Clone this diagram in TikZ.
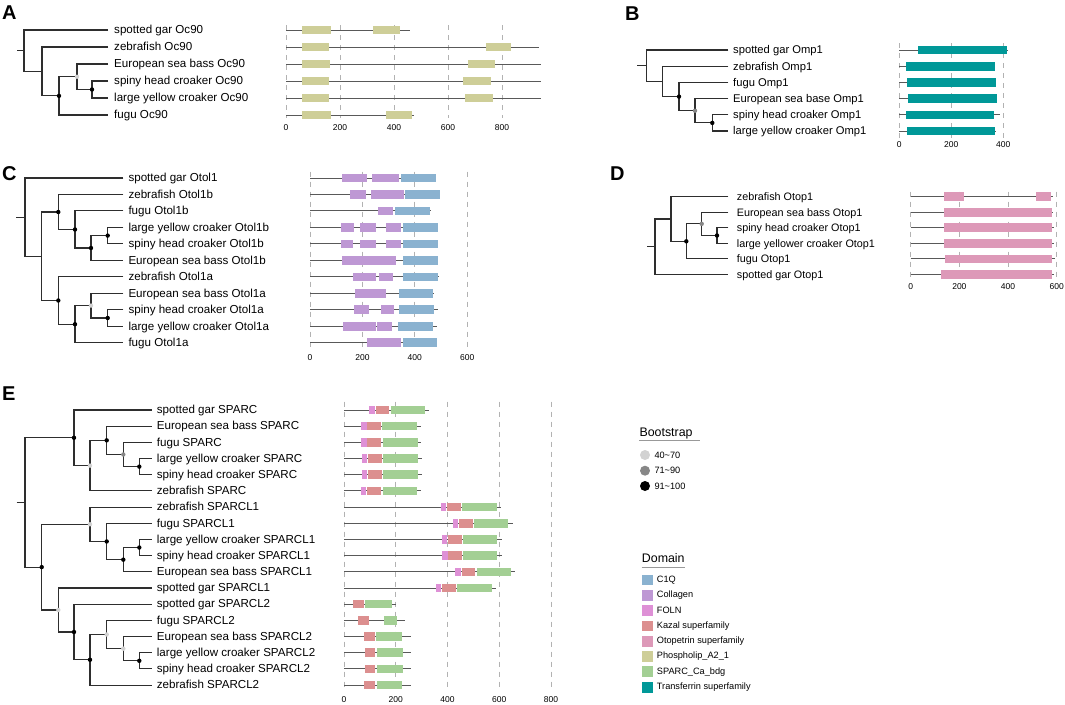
\documentclass[tikz,border=0pt]{standalone}
\usepackage{fontspec}
\setmainfont{Liberation Sans}
\definecolor{phos}{RGB}{206,206,152}
\definecolor{transf}{RGB}{0,152,152}
\definecolor{c1q}{RGB}{138,178,208}
\definecolor{coll}{RGB}{190,152,212}
\definecolor{otop}{RGB}{221,153,184}
\definecolor{foln}{RGB}{222,144,214}
\definecolor{kazal}{RGB}{220,143,143}
\definecolor{sparc}{RGB}{163,207,148}
\definecolor{bslight}{RGB}{210,210,210}
\definecolor{bsmid}{RGB}{135,135,135}
\tikzset{
  tree/.style={draw=black!82, line width=1.1pt},
  lbl/.style={anchor=base west, inner sep=0, font=\fontsize{11.6}{13}\selectfont},
  lblB/.style={anchor=base west, inner sep=0, font=\fontsize{11.2}{13}\selectfont},
  lblD/.style={anchor=base west, inner sep=0, font=\fontsize{10.8}{13}\selectfont},
  pline/.style={draw=black!65, line width=0.9pt},
  gridl/.style={draw=black!30, line width=0.7pt, dash pattern=on 5pt off 5pt},
  tick/.style={font=\fontsize{8.5}{10}\selectfont, inner sep=0, anchor=center},
  letter/.style={font=\bfseries\fontsize{20}{20}\selectfont, anchor=base west, inner sep=0},
  legt/.style={font=\fontsize{12.4}{14}\selectfont, anchor=base west, inner sep=0},
  legi/.style={font=\fontsize{9.2}{11}\selectfont, anchor=west, inner sep=0},
}
\newcommand\tip[6][lbl]{\coordinate (#2) at (#3,#4); \node[#1] (L#2) at (#5,{#4+3.8}) {#6};}
\newcommand\inode[3]{\coordinate (#1) at (#2,#3);}
\newcommand\clade[3]{\draw[tree] (#2) -- (#1 |- #2) -- (#1 |- #3) -- (#3);}
\newcommand\bsdot[2]{\fill[#2] (#1) circle (2.2);}
\newcommand\pline[2]{\draw[pline] (\xo,#1) -- ({\xo+\sc*#2},#1);}
\newcommand\pdom[4]{\fill[#1] ({\xo+\sc*#3},{#2-4.3}) rectangle ({\xo+\sc*#4},{#2+4.3});}
\newcommand\pgrid[4]{\foreach \v in {#1} {\draw[gridl] ({\xo+\sc*\v},#2) -- ({\xo+\sc*\v},#3); \node[tick] at ({\xo+\sc*\v},#4) {\v};}}
\begin{document}
\begin{tikzpicture}[x=1pt,y=-1pt]
\useasboundingbox (0,0) rectangle (1065,704);
\fill[white] (0,0) rectangle (1065,704);

% ===================== A =====================
\node[letter] (letA) at (2,19.5) {A};
\tip{a1}{108}{30}{114}{spotted gar Oc90}
\tip{a2}{108}{47}{114}{zebrafish Oc90}
\tip{a3}{108}{64}{114}{European sea bass Oc90}
\tip{a4}{108}{81}{114}{spiny head croaker Oc90}
\tip{a5}{108}{98}{114}{large yellow croaker Oc90}
\tip{a6}{108}{115}{114}{fugu Oc90}
\inode{na5}{92}{89.5}
\inode{na4}{77}{76.75}
\inode{na3}{59}{95.9}
\inode{na2}{42}{71.4}
\inode{na1}{24}{50.7}
\coordinate (sa) at (17,50.7);
\draw[tree] (sa) -- (na1);
\clade{na1}{a1}{na2}
\clade{na2}{a2}{na3}
\clade{na3}{na4}{a6}
\clade{na4}{a3}{na5}
\clade{na5}{a4}{a5}
\bsdot{na5}{black}\bsdot{na4}{bslight}\bsdot{na3}{black}

\def\xo{286}\def\sc{0.27}
\pgrid{0,200,400,600,800}{25}{118}{128}
\pline{30}{459}\pdom{phos}{30}{60}{165}\pdom{phos}{30}{323}{423}
\pline{47}{937}\pdom{phos}{47}{59}{160}\pdom{phos}{47}{742}{833}
\pline{64}{943}\pdom{phos}{64}{60}{163}\pdom{phos}{64}{675}{775}
\pline{81}{943}\pdom{phos}{81}{59}{160}\pdom{phos}{81}{657}{758}
\pline{98}{945}\pdom{phos}{98}{59}{160}\pdom{phos}{98}{663}{765}
\pline{115}{474}\pdom{phos}{115}{61}{167}\pdom{phos}{115}{370}{468}

% ===================== B =====================
\node[letter] (letB) at (625,20) {B};
\tip[lblB]{b1}{728.3}{50}{733}{spotted gar Omp1}
\tip[lblB]{b2}{728.3}{66.2}{733}{zebrafish Omp1}
\tip[lblB]{b3}{728.3}{82.4}{733}{fugu Omp1}
\tip[lblB]{b4}{728.3}{98.6}{733}{European sea base Omp1}
\tip[lblB]{b5}{728.3}{114.8}{733}{spiny head croaker Omp1}
\tip[lblB]{b6}{728.3}{131}{733}{large yellow croaker Omp1}
\inode{nb5}{712.3}{122.9}
\inode{nb4}{695}{110.75}
\inode{nb3}{679}{96.6}
\inode{nb2}{662.7}{81.4}
\inode{nb1}{646.7}{65.7}
\coordinate (sb) at (637.3,65.7);
\draw[tree] (sb) -- (nb1);
\clade{nb1}{b1}{nb2}
\clade{nb2}{b2}{nb3}
\clade{nb3}{b3}{nb4}
\clade{nb4}{b4}{nb5}
\clade{nb5}{b5}{b6}
\bsdot{nb5}{black}\bsdot{nb4}{bsmid}\bsdot{nb3}{black}

\def\xo{899.3}\def\sc{0.26}
\pgrid{0,200,400}{43}{138}{145}
\pline{50}{417}\pdom{transf}{50}{73}{413}
\pline{66.2}{368}\pdom{transf}{66.2}{27}{369}
\pline{82.4}{372}\pdom{transf}{82.4}{31}{372}
\pline{98.6}{377}\pdom{transf}{98.6}{33}{375}
\pline{114.8}{387}\pdom{transf}{114.8}{25}{365}
\pline{131}{370}\pdom{transf}{131}{28.5}{369}

% ===================== C =====================
\node[letter] (letC) at (2,180) {C};
\tip{c0}{123.3}{178}{128.3}{spotted gar Otol1}
\tip{c1}{123.3}{194.47}{128.3}{zebrafish Otol1b}
\tip{c2}{123.3}{210.94}{128.3}{fugu Otol1b}
\tip{c3}{123.3}{227.41}{128.3}{large yellow croaker Otol1b}
\tip{c4}{123.3}{243.88}{128.3}{spiny head croaker Otol1b}
\tip{c5}{123.3}{260.35}{128.3}{European sea bass Otol1b}
\tip{c6}{123.3}{276.82}{128.3}{zebrafish Otol1a}
\tip{c7}{123.3}{293.29}{128.3}{European sea bass Otol1a}
\tip{c8}{123.3}{309.76}{128.3}{spiny head croaker Otol1a}
\tip{c9}{123.3}{326.23}{128.3}{large yellow croaker Otol1a}
\tip{c10}{123.3}{342.7}{128.3}{fugu Otol1a}
\inode{nc9}{107.7}{235.6}
\inode{nc8}{91}{248.0}
\inode{nc7}{75}{229.5}
\inode{nc6}{58.3}{212.0}
\inode{nc13}{107.7}{318.0}
\inode{nc12}{91}{305.6}
\inode{nc11}{75}{324.2}
\inode{nc10}{58.3}{300.5}
\inode{nc2}{41.7}{256.25}
\inode{nc1}{25}{217.1}
\coordinate (sc) at (16,217.1);
\draw[tree] (sc) -- (nc1);
\clade{nc1}{c0}{nc2}
\clade{nc2}{nc6}{nc10}
\clade{nc6}{c1}{nc7}
\clade{nc7}{c2}{nc8}
\clade{nc8}{nc9}{c5}
\clade{nc9}{c3}{c4}
\clade{nc10}{c6}{nc11}
\clade{nc11}{nc12}{c10}
\clade{nc12}{c7}{nc13}
\clade{nc13}{c8}{c9}
\bsdot{nc6}{black}\bsdot{nc7}{black}\bsdot{nc8}{black}\bsdot{nc9}{black}
\bsdot{nc10}{black}\bsdot{nc11}{black}\bsdot{nc12}{bslight}\bsdot{nc13}{black}

\def\xo{310}\def\sc{0.262}
\pgrid{0,200,400,600}{171.7}{350}{358}
\pline{178}{479}\pdom{coll}{178}{121}{219}\pdom{coll}{178}{238}{341}\pdom{c1q}{178}{348}{479}
\pline{194.47}{495}\pdom{coll}{194.47}{153}{213}\pdom{coll}{194.47}{234}{360}\pdom{c1q}{194.47}{363}{495}
\pline{210.94}{460}\pdom{coll}{210.94}{260}{317}\pdom{c1q}{210.94}{326}{457}
\pline{227.41}{487}\pdom{coll}{227.41}{118}{167}\pdom{coll}{227.41}{192}{253}\pdom{coll}{227.41}{289}{348}\pdom{c1q}{227.41}{355}{487}
\pline{243.88}{487}\pdom{coll}{243.88}{118}{164}\pdom{coll}{243.88}{192}{253}\pdom{coll}{243.88}{289}{348}\pdom{c1q}{243.88}{355}{487}
\pline{260.35}{487}\pdom{coll}{260.35}{124}{329}\pdom{c1q}{260.35}{355}{487}
\pline{276.82}{492}\pdom{coll}{276.82}{163}{253}\pdom{coll}{276.82}{265}{316}\pdom{c1q}{276.82}{355}{487}
\pline{293.29}{474}\pdom{coll}{293.29}{172}{290}\pdom{c1q}{293.29}{340}{470}
\pline{309.76}{487}\pdom{coll}{309.76}{169}{225}\pdom{coll}{309.76}{271}{320}\pdom{c1q}{309.76}{341}{474}
\pline{326.23}{484}\pdom{coll}{326.23}{126}{252}\pdom{coll}{326.23}{256}{312}\pdom{c1q}{326.23}{336}{470}
\pline{342.7}{485}\pdom{coll}{342.7}{217}{348}\pdom{c1q}{342.7}{355}{485}

% ===================== D =====================
\node[letter] (letD) at (610,180) {D};
\tip[lblD]{d1}{728.3}{196.7}{736.7}{zebrafish Otop1}
\tip[lblD]{d2}{728.3}{212.2}{736.7}{European sea bass Otop1}
\tip[lblD]{d3}{728.3}{227.7}{736.7}{spiny head croaker Otop1}
\tip[lblD]{d4}{728.3}{243.3}{736.7}{large yellower croaker Otop1}
\tip[lblD]{d5}{728.3}{258.8}{736.7}{fugu Otop1}
\tip[lblD]{d6}{728.3}{274.3}{736.7}{spotted gar Otop1}
\inode{nd5}{717}{235.5}
\inode{nd4}{701.7}{223.85}
\inode{nd3}{686.3}{241.3}
\inode{nd2}{671}{219.0}
\inode{nd1}{655}{246.65}
\coordinate (sd) at (647.3,246.65);
\draw[tree] (sd) -- (nd1);
\clade{nd1}{nd2}{d6}
\clade{nd2}{d1}{nd3}
\clade{nd3}{nd4}{d5}
\clade{nd4}{d2}{nd5}
\clade{nd5}{d3}{d4}
\bsdot{nd5}{black}\bsdot{nd4}{bsmid}\bsdot{nd3}{black}

\def\xo{910.7}\def\sc{0.2433}
\pgrid{0,200,400,600}{191.7}{280}{286.7}
\pline{196.7}{586}\pdom{otop}{196.7}{137}{218}\pdom{otop}{196.7}{515}{578}
\pline{212.2}{586}\pdom{otop}{212.2}{137}{581}
\pline{227.7}{590}\pdom{otop}{227.7}{137}{581}
\pline{243.3}{590}\pdom{otop}{243.3}{137}{581}
\pline{258.8}{592}\pdom{otop}{258.8}{140}{582}
\pline{274.3}{590}\pdom{otop}{274.3}{123}{582}

% ===================== E =====================
\node[letter] (letE) at (2,400) {E};
\tip{e0}{151.7}{410}{156.7}{spotted gar SPARC}
\tip{e1}{151.7}{426.18}{156.7}{European sea bass SPARC}
\tip{e2}{151.7}{442.36}{156.7}{fugu SPARC}
\tip{e3}{151.7}{458.54}{156.7}{large yellow croaker SPARC}
\tip{e4}{151.7}{474.72}{156.7}{spiny head croaker SPARC}
\tip{e5}{151.7}{490.9}{156.7}{zebrafish SPARC}
\tip{e6}{151.7}{507.08}{156.7}{zebrafish SPARCL1}
\tip{e7}{151.7}{523.26}{156.7}{fugu SPARCL1}
\tip{e8}{151.7}{539.44}{156.7}{large yellow croaker SPARCL1}
\tip{e9}{151.7}{555.62}{156.7}{spiny head croaker SPARCL1}
\tip{e10}{151.7}{571.8}{156.7}{European sea bass SPARCL1}
\tip{e11}{151.7}{587.98}{156.7}{spotted gar SPARCL1}
\tip{e12}{151.7}{604.16}{156.7}{spotted gar SPARCL2}
\tip{e13}{151.7}{620.34}{156.7}{fugu SPARCL2}
\tip{e14}{151.7}{636.52}{156.7}{European sea bass SPARCL2}
\tip{e15}{151.7}{652.7}{156.7}{large yellow croaker SPARCL2}
\tip{e16}{151.7}{668.88}{156.7}{spiny head croaker SPARCL2}
\tip{e17}{151.7}{685.06}{156.7}{zebrafish SPARCL2}
\inode{ne5}{139.3}{466.63}
\inode{ne4}{123.3}{454.5}
\inode{ne3}{106.7}{440.34}
\inode{ne2}{90}{465.62}
\inode{ne1}{74}{437.81}
\inode{ne9}{139.3}{547.53}
\inode{ne8}{123.3}{559.67}
\inode{ne7}{106.7}{541.46}
\inode{ne6}{90}{524.27}
\inode{ne15}{139.3}{660.79}
\inode{ne14}{123.3}{648.66}
\inode{ne13}{106.7}{634.5}
\inode{ne12}{90}{659.78}
\inode{ne11}{74}{631.97}
\inode{ne10}{58.3}{609.98}
\inode{neb}{41.7}{567.1}
\inode{ner}{25}{502.46}
\coordinate (se) at (16.7,502.46);
\draw[tree] (se) -- (ner);
\clade{ner}{ne1}{neb}
\clade{ne1}{e0}{ne2}
\clade{ne2}{ne3}{e5}
\clade{ne3}{e1}{ne4}
\clade{ne4}{e2}{ne5}
\clade{ne5}{e3}{e4}
\clade{neb}{ne6}{ne10}
\clade{ne6}{e6}{ne7}
\clade{ne7}{e7}{ne8}
\clade{ne8}{ne9}{e10}
\clade{ne9}{e8}{e9}
\clade{ne10}{e11}{ne11}
\clade{ne11}{e12}{ne12}
\clade{ne12}{ne13}{e17}
\clade{ne13}{e13}{ne14}
\clade{ne14}{e14}{ne15}
\clade{ne15}{e15}{e16}
\bsdot{ne1}{black}\bsdot{ne2}{bslight}\bsdot{ne3}{black}\bsdot{ne4}{bsmid}\bsdot{ne5}{black}
\bsdot{ne6}{bslight}\bsdot{ne7}{black}\bsdot{ne8}{black}\bsdot{ne9}{black}
\bsdot{neb}{black}\bsdot{ne10}{bslight}\bsdot{ne11}{black}\bsdot{ne12}{black}
\bsdot{ne13}{bslight}\bsdot{ne14}{bslight}\bsdot{ne15}{black}

\def\xo{344}\def\sc{0.2588}
\pgrid{0,200,400,600,800}{401.7}{690}{700}
\pline{410}{328}\pdom{foln}{410}{98}{118.5}\pdom{kazal}{410}{122}{174}\pdom{sparc}{410}{182}{313}
\pline{426.18}{296}\pdom{foln}{426.18}{66}{88}\pdom{kazal}{426.18}{90}{144}\pdom{sparc}{426.18}{148}{282}
\pline{442.36}{298}\pdom{foln}{442.36}{67.5}{88}\pdom{kazal}{442.36}{90}{144}\pdom{sparc}{442.36}{150}{284}
\pline{458.54}{300}\pdom{foln}{458.54}{70}{90}\pdom{kazal}{458.54}{92}{147}\pdom{sparc}{458.54}{151}{285}
\pline{474.72}{300}\pdom{foln}{474.72}{70}{90}\pdom{kazal}{474.72}{93}{148}\pdom{sparc}{474.72}{151}{285}
\pline{490.9}{296}\pdom{foln}{490.9}{66}{86}\pdom{kazal}{490.9}{89}{144}\pdom{sparc}{490.9}{150}{282}
\pline{507.08}{605}\pdom{foln}{507.08}{373.5}{395}\pdom{kazal}{507.08}{398}{451}\pdom{sparc}{507.08}{457}{590}
\pline{523.26}{652}\pdom{foln}{523.26}{420}{442}\pdom{kazal}{523.26}{444}{497}\pdom{sparc}{523.26}{502}{635}
\pline{539.44}{609}\pdom{foln}{539.44}{379}{399}\pdom{kazal}{539.44}{402}{456}\pdom{sparc}{539.44}{460}{592}
\pline{555.62}{609}\pdom{foln}{555.62}{379}{400}\pdom{kazal}{555.62}{403}{456}\pdom{sparc}{555.62}{461}{591}
\pline{571.8}{662}\pdom{foln}{571.8}{429}{451}\pdom{kazal}{571.8}{455}{506}\pdom{sparc}{571.8}{513}{645}
\pline{587.98}{586}\pdom{foln}{587.98}{354}{375}\pdom{kazal}{587.98}{379}{431.5}\pdom{sparc}{587.98}{437}{570.6}
\pline{604.16}{200}\pdom{kazal}{604.16}{35}{76}\pdom{sparc}{604.16}{82}{185.5}
\pline{620.34}{237}\pdom{kazal}{620.34}{54}{98}\pdom{sparc}{620.34}{155}{206}
\pline{636.52}{258}\pdom{kazal}{636.52}{79}{118.5}\pdom{sparc}{636.52}{124}{224}
\pline{652.7}{260}\pdom{kazal}{652.7}{82}{120}\pdom{sparc}{652.7}{126}{227}
\pline{668.88}{260}\pdom{kazal}{668.88}{82}{120}\pdom{sparc}{668.88}{126}{227}
\pline{685.06}{258}\pdom{kazal}{685.06}{79}{120}\pdom{sparc}{685.06}{126}{225}

% ===================== Legend =====================
\node[legt] (legB) at (639.3,436.5) {Bootstrap};
\draw[black!40, line width=0.9pt] (639.3,440) -- (700,440);
\fill[bslight] (645,455) circle (5);
\fill[bsmid] (645,470.7) circle (5);
\fill[black] (645,486) circle (5);
\node[legi] (lb1) at (654.3,455) {40\textasciitilde 70};
\node[legi] (lb2) at (654.3,470.7) {71\textasciitilde 90};
\node[legi] (lb3) at (654.3,486) {91\textasciitilde 100};

\node[legt] (legD) at (641.7,562.5) {Domain};
\draw[black!40, line width=0.9pt] (641.7,567) -- (685,567);
\foreach \c/\t [count=\i from 0] in {c1q/C1Q,coll/Collagen,foln/FOLN,kazal/Kazal superfamily,otop/Otopetrin superfamily,phos/Phospholip\_A2\_1,sparc/SPARC\_Ca\_bdg,transf/Transferrin superfamily}{
  \fill[\c] (641.7,{580+15.3*\i-5.4}) rectangle (652.7,{580+15.3*\i+5.4});
  \node[legi] (ld\i) at (656.7,{580+15.3*\i}) {\t};
}
\end{tikzpicture}
\end{document}
